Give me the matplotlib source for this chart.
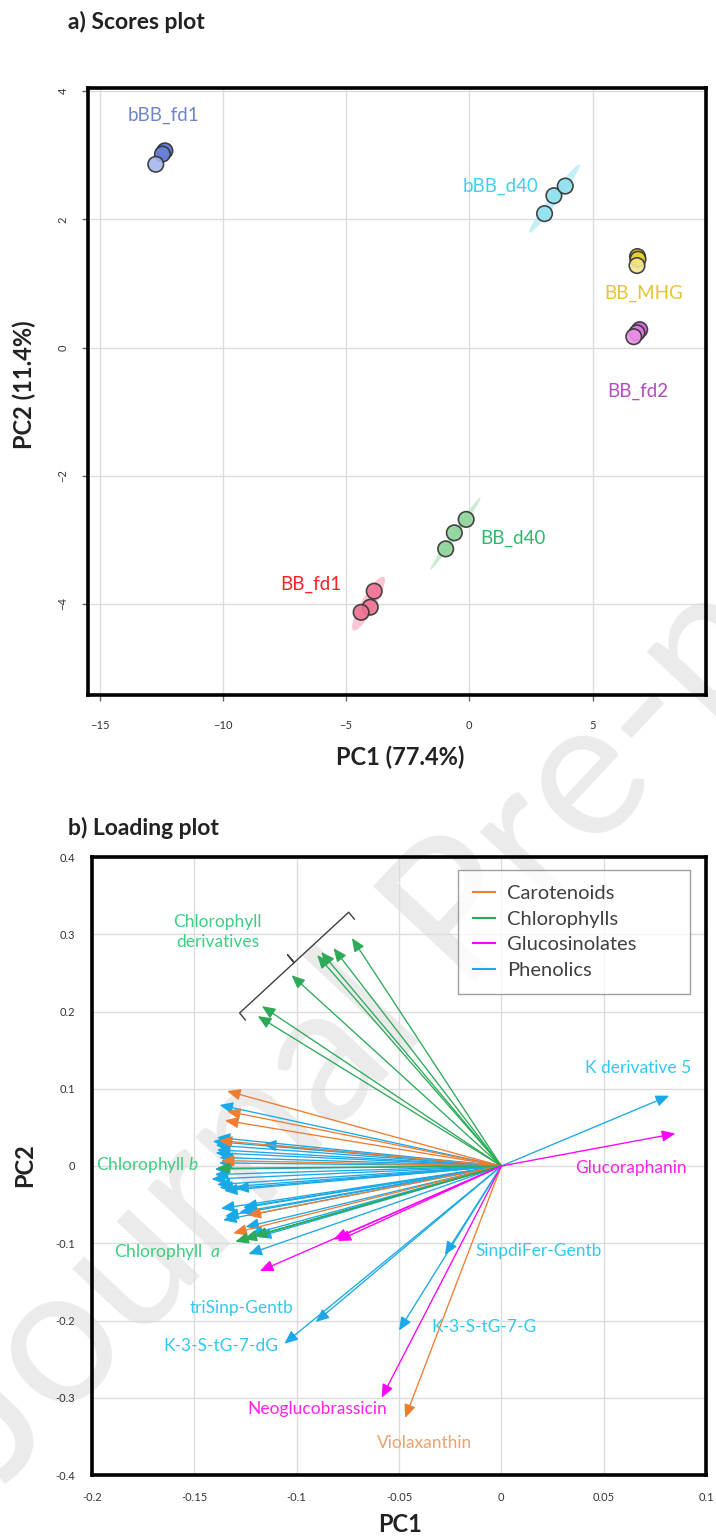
import numpy as np
import matplotlib.pyplot as plt
from matplotlib.transforms import IdentityTransform

plt.rcParams['font.family'] = ['Lato', 'DejaVu Sans']
plt.rcParams['mathtext.fontset'] = 'custom'
plt.rcParams['mathtext.rm'] = 'Lato'
plt.rcParams['mathtext.it'] = 'Lato:italic'

# PCA scores, three replicates per sample group
groups = ['bBB_fd1', 'bBB_d40', 'BB_MHG', 'BB_fd2', 'BB_d40', 'BB_fd1']
score_pc1 = [[-12.35, -12.45, -12.72], [3.05, 3.43, 3.89], [6.82, 6.84, 6.80],
             [6.91, 6.80, 6.67], [-0.96, -0.61, -0.13], [-3.86, -4.02, -4.39]]
score_pc2 = [[3.07, 3.02, 2.86], [2.09, 2.37, 2.52], [1.42, 1.38, 1.28],
             [0.28, 0.23, 0.17], [-3.14, -2.89, -2.68], [-3.80, -4.05, -4.13]]
point_colors = [['#5b73d6', '#6a80da', '#a8b6ee'],
                ['#8fe0ee', '#8fe0ee', '#8fe0ee'],
                ['#e8d030', '#e8d030', '#f3e690'],
                ['#d455d4', '#e07ae0', '#e890e8'],
                ['#8ed49a', '#8ed49a', '#8ed49a'],
                ['#ee7393', '#ee7393', '#ee7393']]
ellipse_colors = ['#b8c4f0', '#b8ecf8', '#f5eaa0', '#f0c0f0', '#bfe8c8', '#f8b8c8']
label_colors = ['#6f84d0', '#3dd0f0', '#e8c430', '#b24cc0', '#2db86a', '#ff2020']
label_xy = [(-12.4, 3.62), (1.25, 2.51), (7.07, 0.84), (6.82, -0.69), (1.77, -2.98), (-6.43, -3.70)]

# PCA loadings by compound class (arrow tips)
car_pc1 = [-0.134, -0.134, -0.135, -0.138, -0.137, -0.124, -0.131, -0.047]
car_pc2 = [0.097, 0.071, 0.059, 0.033, 0.007, -0.064, -0.087, -0.326]
chl_pc1 = [-0.073, -0.082, -0.088, -0.090, -0.1025, -0.117, -0.119, -0.139, -0.130, -0.121, -0.126]
chl_pc2 = [0.295, 0.282, 0.277, 0.273, 0.247, 0.207, 0.194, -0.003, -0.098, -0.091, -0.095]
glu_pc1 = [0.085, -0.0585, -0.118, -0.080, -0.082]
glu_pc2 = [0.042, -0.300, -0.136, -0.097, -0.095]
phe_pc1 = [0.082, -0.0276, -0.050, -0.0907, -0.106, -0.1236,
           -0.1377, -0.139, -0.1396, -0.139, -0.1396, -0.1377, -0.140, -0.1416,
           -0.139, -0.1377, -0.1355, -0.130, -0.1165, -0.137, -0.126, -0.135,
           -0.136, -0.125, -0.123, -0.126, -0.141, -0.138, -0.140, -0.128, -0.119]
phe_pc2 = [0.091, -0.115, -0.213, -0.202, -0.230, -0.114,
           0.079, 0.037, 0.027, 0.021, 0.017, 0.011, -0.011, -0.017,
           -0.024, -0.028, -0.032, -0.029, 0.028, -0.055, -0.054, -0.065,
           -0.070, -0.079, -0.089, -0.053, 0.032, 0.004, -0.004, -0.060, -0.092]

classes = ['Carotenoids', 'Chlorophylls', 'Glucosinolates', 'Phenolics']
class_colors = ['#ed7d31', '#2daa58', '#ff00ff', '#1aa9e6']

named_loadings = ['K derivative 5', 'Glucoraphanin', 'SinpdiFer-Gentb', 'K-3-S-tG-7-G',
                  'triSinp-Gentb', 'K-3-S-tG-7-dG', 'Neoglucobrassicin', 'Violaxanthin',
                  'Chlorophyll $b$', 'Chlorophyll  $a$', 'Chlorophyll\nderivatives']
named_xy = [(0.0668, 0.127), (0.0635, -0.003), (0.0183, -0.110), (-0.0083, -0.208),
            (-0.1268, -0.184), (-0.137, -0.233), (-0.090, -0.314), (-0.0376, -0.359),
            (-0.1727, 0.001), (-0.163, -0.111), (-0.1385, 0.303)]
named_colors = ['#33c8f2', '#ff22ee', '#33c8f2', '#33c8f2', '#33c8f2', '#33c8f2',
                '#ff22ee', '#f0a068', '#3ccf80', '#3ccf80', '#3ccf80']

fig = plt.figure(figsize=(7.16, 15.4), dpi=100)
W, H = 716, 1540

# watermark across the page, behind both panels
fig.text(5 / W, 1 - 1485 / H, 'Journal Pre-proof', rotation=47, rotation_mode='anchor',
         fontsize=140, color='#ebebeb', zorder=-1, ha='left', va='baseline')

# ---- a) scores plot ----
ax1 = fig.add_axes([88 / W, 1 - 695 / H, 618 / W, 607 / H])
ax1.set_facecolor('none')
ax1.set_xlim(-15.47, 9.6)
ax1.set_ylim(-5.42, 4.05)
ax1.set_xticks([-15, -10, -5, 0, 5])
ax1.set_yticks([-4, -2, 0, 2, 4])
ax1.grid(True, color='#dcdcdc', lw=1)
ax1.set_axisbelow(True)
ax1.tick_params(direction='out', length=4, width=1, color='#666666', labelsize=8,
                labelcolor='#333333', pad=14)
ax1.tick_params(axis='y', labelrotation=90, pad=10)
for lab in ax1.get_yticklabels():
    lab.set_va('center')
for sp in ax1.spines.values():
    sp.set_linewidth(2.6)
    sp.set_color('black')

t = np.linspace(0, 2 * np.pi, 100)
for i, g in enumerate(groups):
    pts = np.column_stack([score_pc1[i], score_pc2[i]])
    # 95% confidence ellipse from the replicate covariance
    mu = pts.mean(axis=0)
    vals, vecs = np.linalg.eigh(np.cov(pts.T))
    r = np.sqrt(np.clip(vals, 0, None)) * 2.45
    circ = np.column_stack([np.cos(t) * r[0], np.sin(t) * r[1]])
    ell = circ @ vecs.T + mu
    ax1.fill(ell[:, 0], ell[:, 1], color=ellipse_colors[i], alpha=0.8, lw=0, zorder=2)
    ax1.scatter(score_pc1[i], score_pc2[i], s=125, c=point_colors[i],
                edgecolors='#333333', linewidths=1.2, alpha=0.9, zorder=3)
    ax1.text(label_xy[i][0], label_xy[i][1], g, color=label_colors[i], fontsize=13.5,
             ha='center', va='center', zorder=4)

fig.text(68 / W, 1 - 22 / H, 'a) Scores plot', fontsize=16.5, fontweight='bold',
         color='#222222', ha='left', va='center')
fig.text(400 / W, 1 - 757 / H, 'PC1 (77.4%)', fontsize=17, fontweight='bold',
         color='#222222', ha='center', va='center')
fig.text(24 / W, 1 - 385 / H, 'PC2 (11.4%)', fontsize=17, fontweight='bold',
         color='#222222', ha='center', va='center', rotation=90)

# ---- b) loading plot ----
ax2 = fig.add_axes([92 / W, 1 - 1475 / H, 614 / W, 618 / H])
ax2.set_facecolor('none')
ax2.set_xlim(-0.2, 0.1)
ax2.set_ylim(-0.4, 0.4)
ax2.set_xticks(np.arange(-0.2, 0.101, 0.05))
ax2.set_xticklabels(['-0.2', '-0.15', '-0.1', '-0.05', '0', '0.05', '0.1'])
ax2.set_yticks(np.arange(-0.4, 0.401, 0.1))
ax2.set_yticklabels(['-0.4', '-0.3', '-0.2', '-0.1', '0', '0.1', '0.2', '0.3', '0.4'])
ax2.grid(True, color='#dcdcdc', lw=1)
ax2.set_axisbelow(True)
ax2.tick_params(length=0, labelsize=8, labelcolor='#333333', pad=12)
for sp in ax2.spines.values():
    sp.set_linewidth(2.6)
    sp.set_color('black')

loads = [(car_pc1, car_pc2), (chl_pc1, chl_pc2), (glu_pc1, glu_pc2), (phe_pc1, phe_pc2)]
order = [3, 0, 1, 2]
for k in order:
    xs, ys = loads[k]
    for x, y in zip(xs, ys):
        ax2.annotate('', xy=(x, y), xytext=(0, 0),
                     arrowprops=dict(arrowstyle='-|>,head_length=0.7,head_width=0.3',
                                     color=class_colors[k], lw=0.95, mutation_scale=11.5,
                                     shrinkA=0, shrinkB=0), zorder=3)
    ax2.plot([], [], color=class_colors[k], lw=1.5, label=classes[k])

handles, labels = ax2.get_legend_handles_labels()
idx = [labels.index(c) for c in classes]
leg = ax2.legend([handles[i] for i in idx], classes, loc='upper left',
                 bbox_to_anchor=(0.596, 0.762, 0.378, 0.217), mode='expand',
                 fontsize=14.5, frameon=True, fancybox=False, edgecolor='#888888',
                 handlelength=1.1, borderpad=0.75, labelspacing=0.42,
                 handletextpad=0.6, borderaxespad=0)
leg.get_frame().set_linewidth(1)
for txt in leg.get_texts():
    txt.set_color('#404040')

for name, (x, y), c in zip(named_loadings, named_xy, named_colors):
    ax2.text(x, y, name, color=c, fontsize=12.5, ha='center', va='center',
             linespacing=1.35, zorder=4)

# bracket grouping the chlorophyll derivative arrows
tips = ax2.transData.transform(np.column_stack([chl_pc1[:7], chl_pc2[:7]]))
p0 = tips[np.argmin(tips[:, 0])]
p1 = tips[np.argmax(tips[:, 0])]
d = (p1 - p0) / np.linalg.norm(p1 - p0)
n = np.array([-d[1], d[0]])
b0 = p0 - 12 * d + 14 * n
b1 = p1 + 14 * d + 22 * n
mid = (b0 + b1) / 2
path = np.array([b0 - 9 * n, b0, mid, mid + 10 * n, mid, b1, b1 - 9 * n])
ax2.plot(path[:, 0], path[:, 1], color='#404040', lw=1, transform=IdentityTransform(),
         zorder=4)

fig.text(68 / W, 1 - 828 / H, 'b) Loading plot', fontsize=16.5, fontweight='bold',
         color='#222222', ha='left', va='center')
fig.text(400 / W, 1 - 1525 / H, 'PC1', fontsize=17, fontweight='bold',
         color='#222222', ha='center', va='center')
fig.text(25 / W, 1 - 1165 / H, 'PC2', fontsize=17, fontweight='bold',
         color='#222222', ha='center', va='center', rotation=90)

fig.savefig('out.png', dpi=100)
